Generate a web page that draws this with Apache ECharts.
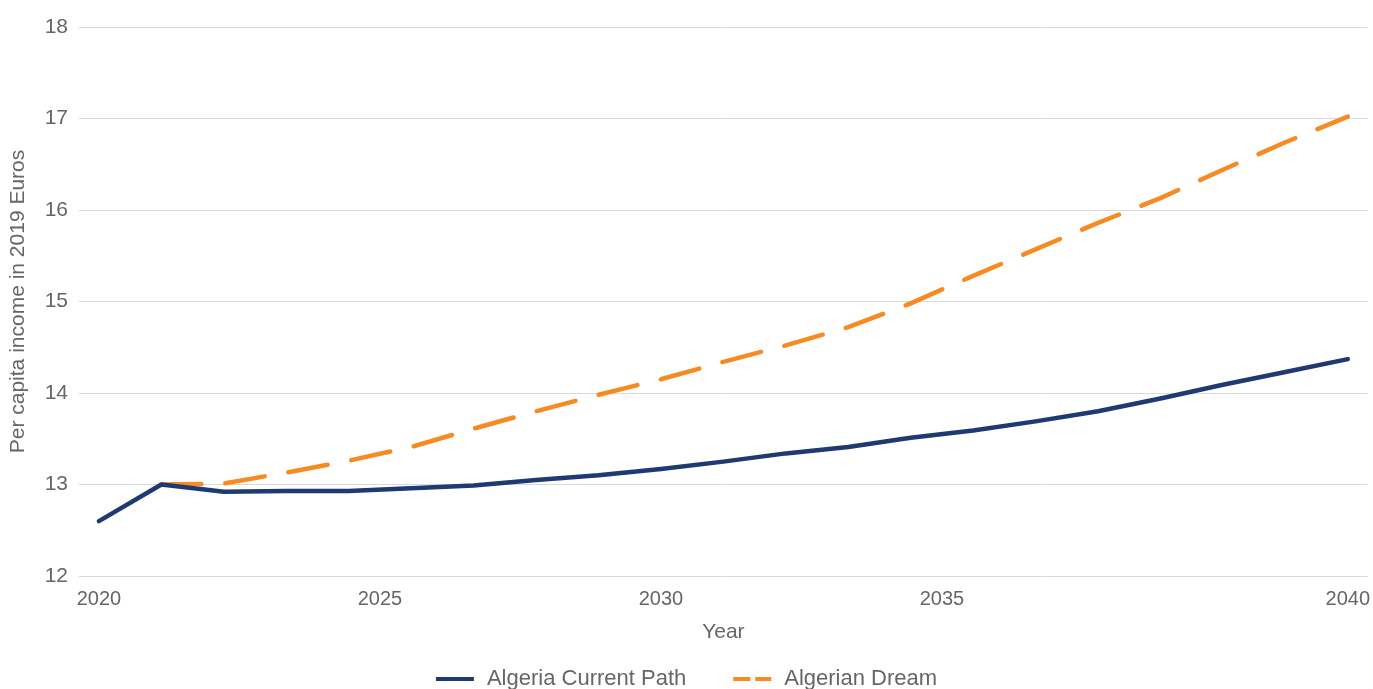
<!DOCTYPE html>
<html>
<head>
<meta charset="utf-8">
<script src="https://cdn.jsdelivr.net/npm/echarts@6/dist/echarts.min.js"></script>
<style>
html,body{margin:0;padding:0;background:#fff;}
#chart{width:1373px;height:689px;}
</style>
</head>
<body>
<div id="chart"></div>
<script>
// Data (index 0 = 2020 ... index 20 = 2040)
const years = [2020,2021,2022,2023,2024,2025,2026,2027,2028,2029,2030,2031,2032,2033,2034,2035,2036,2037,2038,2039,2040];
const currentPath = [12.60,13.00,12.92,12.93,12.93,12.96,12.99,13.05,13.10,13.17,13.25,13.34,13.41,13.51,13.59,13.69,13.80,13.94,14.09,14.23,14.37];
const algerianDream = [null,13.00,13.01,13.13,13.26,13.41,13.61,13.80,13.98,14.15,14.34,14.52,14.72,14.98,15.28,15.57,15.86,16.13,16.44,16.74,17.02];
const xTickLabels = ['2020','2025','2030','2035','2040'];
const xTickAt = [0,4.5,9,13.5,20];
const yTicks = [12,13,14,15,16,17,18];

const font = 'Liberation Sans, Arial, sans-serif';
const toPairs = arr => arr.map((v,i)=>[i, v]).filter(p=>p[1]!==null);

const chart = echarts.init(document.getElementById('chart'));
chart.setOption({
  animation:false,
  backgroundColor:'#fff',
  grid:{left:77,right:3,top:27,bottom:113,containLabel:false},
  xAxis:{
    type:'value', min:-0.319, max:20.319,
    name:'Year', nameLocation:'middle', nameGap:46,
    nameTextStyle:{fontFamily:font,fontSize:21,color:'#666'},
    axisLine:{show:false}, axisTick:{show:false}, splitLine:{show:false},
    axisLabel:{
      customValues:xTickAt,
      fontFamily:font,fontSize:20,color:'#666',margin:13,
      formatter:function(v){const k=xTickAt.indexOf(v);return k>=0?xTickLabels[k]:'';}
    }
  },
  yAxis:{
    type:'value', min:yTicks[0], max:yTicks[yTicks.length-1], interval:1,
    name:'Per capita income in 2019 Euros', nameLocation:'middle', nameGap:50,
    nameTextStyle:{fontFamily:font,fontSize:21,color:'#666'},
    axisLine:{show:false}, axisTick:{show:false},
    splitLine:{lineStyle:{color:'#d9d9d9',width:1}},
    axisLabel:{fontFamily:font,fontSize:21,color:'#666',margin:11}
  },
  legend:{
    top:663, left:'center', itemWidth:38, itemHeight:14, itemGap:47,
    textStyle:{fontFamily:font,fontSize:22,color:'#666',padding:[0,0,0,8]},
    data:[
      {name:'Algeria Current Path', icon:'path://M0,0H38V4H0Z'},
      {name:'Algerian Dream', icon:'path://M0,0H17V4H0Z M22,0H38V4H22Z'}
    ]
  },
  series:[
    {
      name:'Algerian Dream', type:'line', data:toPairs(algerianDream), symbol:'none', z:2,
      lineStyle:{color:'#f68b23',width:4.5,type:[40,24],cap:'round'},
      itemStyle:{color:'#f68b23'}
    },
    {
      name:'Algeria Current Path', type:'line', data:toPairs(currentPath), symbol:'none', z:3,
      lineStyle:{color:'#1f3a70',width:4.5,cap:'round',join:'round'},
      itemStyle:{color:'#1f3a70'}
    }
  ]
});
</script>
</body>
</html>
